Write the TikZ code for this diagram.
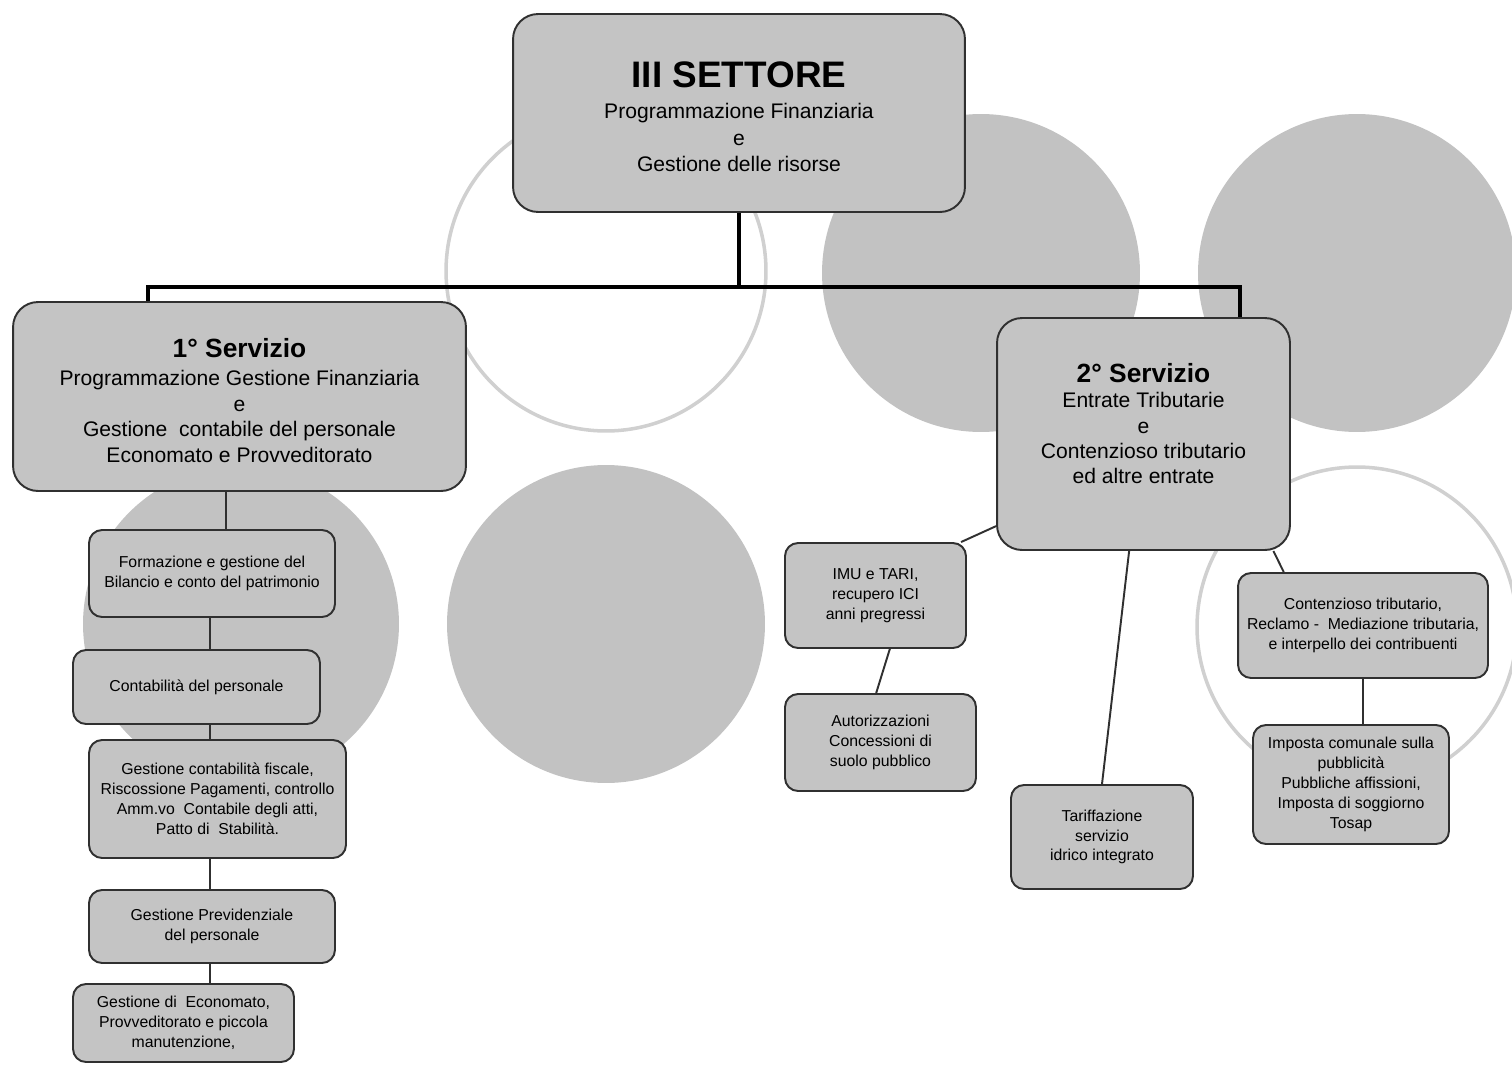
\documentclass[tikz,border=0pt]{standalone}
\usepackage{fontspec}
\setmainfont{Liberation Sans}
\definecolor{boxgray}{HTML}{C4C4C4}
\definecolor{discgray}{HTML}{C2C2C2}
\definecolor{ringgray}{HTML}{D0D0D0}
\definecolor{edgegray}{HTML}{303030}
\begin{document}
\begin{tikzpicture}[x=0.02cm, y=-0.02cm,
    box/.style={draw=edgegray, line width=1.1pt, fill=boxgray, rounded corners=0.26cm,
                align=center, inner sep=0pt, font=\fontsize{9}{11.3}\selectfont},
    bigbox/.style={box, rounded corners=0.5cm, font=\fontsize{12}{14.5}\selectfont},
    disc/.style={fill=discgray},
    ring/.style={draw=ringgray, line width=2pt},
    bus/.style={line width=2.8pt, black},
    link/.style={line width=1.1pt, edgegray}]
    \useasboundingbox (0,0) rectangle (1512,1065);

    % background circles
    \draw[ring] (606,271) circle (3.2cm);
    \fill[disc] (981,273) circle (3.18cm);
    \fill[disc] (1357,273) circle (3.18cm);
    \fill[disc] (241,624) circle (3.16cm);
    \fill[disc] (606,624) circle (3.18cm);
    \draw[ring] (1357,627) circle (3.2cm);

    % sector and services
    \node[bigbox, minimum width=9.04cm, minimum height=3.96cm] (top) at (739,113)
        {\rule{0pt}{18.7pt}{\fontsize{21}{27}\selectfont\bfseries III SETTORE}\\[3pt]Programmazione Finanziaria\\[1pt]e\\Gestione delle risorse};
    \node[bigbox, minimum width=9.06cm, minimum height=3.78cm] (s1) at (239.5,396.5)
        {\rule{0pt}{15.5pt}{\fontsize{15}{17}\selectfont\bfseries 1° Servizio}\\[1.3pt]Programmazione Gestione Finanziaria\\e\\Gestione\ \ contabile del personale\\Economato e Provveditorato};
    \node[bigbox, minimum width=5.86cm, minimum height=4.64cm, text depth=12pt] (s2) at (1143.5,434)
        {{\fontsize{15}{17}\selectfont\bfseries 2° Servizio}\\Entrate Tributarie\\e\\Contenzioso tributario\\ed altre entrate};

    % offices of the 1st service
    \node[box, minimum width=4.92cm, minimum height=1.74cm] (a) at (212,573.5)
        {Formazione e gestione del\\Bilancio e conto del patrimonio};
    \node[box, minimum width=4.94cm, minimum height=1.48cm] (b) at (196.5,687)
        {Contabilità del personale};
    \node[box, minimum width=5.14cm, minimum height=2.36cm] (c) at (217.5,799)
        {Gestione contabilità fiscale,\\Riscossione Pagamenti, controllo\\Amm.vo\ \ Contabile degli atti,\\Patto di\ \ Stabilità.};
    \node[box, minimum width=4.92cm, minimum height=1.46cm] (d) at (212,926.5)
        {Gestione Previdenziale\\del personale};
    \node[box, minimum width=4.42cm, minimum height=1.56cm] (e) at (183.5,1023)
        {Gestione di\ \ Economato,\\Provveditorato e piccola\\manutenzione,};

    % offices of the 2nd service
    \node[box, minimum width=3.62cm, minimum height=2.1cm] (f) at (875.5,595.5)
        {IMU e TARI,\\recupero ICI\\anni pregressi};
    \node[box, minimum width=3.82cm, minimum height=1.94cm] (g) at (880.5,742.5)
        {Autorizzazioni\\Concessioni di\\suolo pubblico};
    \node[box, minimum width=3.64cm, minimum height=2.08cm] (h) at (1102,837)
        {Tariffazione\\servizio\\idrico integrato};
    \node[box, minimum width=5cm, minimum height=2.1cm] (i) at (1363,625.5)
        {Contenzioso tributario,\\Reclamo -\ \ Mediazione tributaria,\\e interpello dei contribuenti};
    \node[box, minimum width=3.92cm, minimum height=2.38cm] (j) at (1351,784.5)
        {Imposta comunale sulla\\pubblicità\\Pubbliche affissioni,\\Imposta di soggiorno\\Tosap};

    % tree lines
    \coordinate (bl) at (148,287);
    \coordinate (br) at (1240,287);
    \coordinate (spine) at (210,0);
    \coordinate (drop) at (226,0);
    \draw[bus] (top.south) -- (top.south |- bl);
    \draw[bus, line cap=rect] (bl) -- (br);
    \draw[bus] (bl) -- (bl |- s1.north);
    \draw[bus] (br) -- (br |- s2.north);

    \draw[link] (s1.south -| drop) -- (a.north -| drop);
    \draw[link] (a.south -| spine) -- (b.north -| spine);
    \draw[link] (b.south -| spine) -- (c.north -| spine);
    \draw[link] (c.south -| spine) -- (d.north -| spine);
    \draw[link] (d.south -| spine) -- (e.north -| spine);

    \draw[link] (s2.212.7) -- (f.32.4);
    \draw[link] (f.285.4) -- (g.95.3);
    \draw[link] (s2.263.8) -- (h.north);
    \draw[link] (s2.318.3) -- (i.146.4);
    \draw[link] (i.south) -- (i.south |- j.north);
\end{tikzpicture}
\end{document}
